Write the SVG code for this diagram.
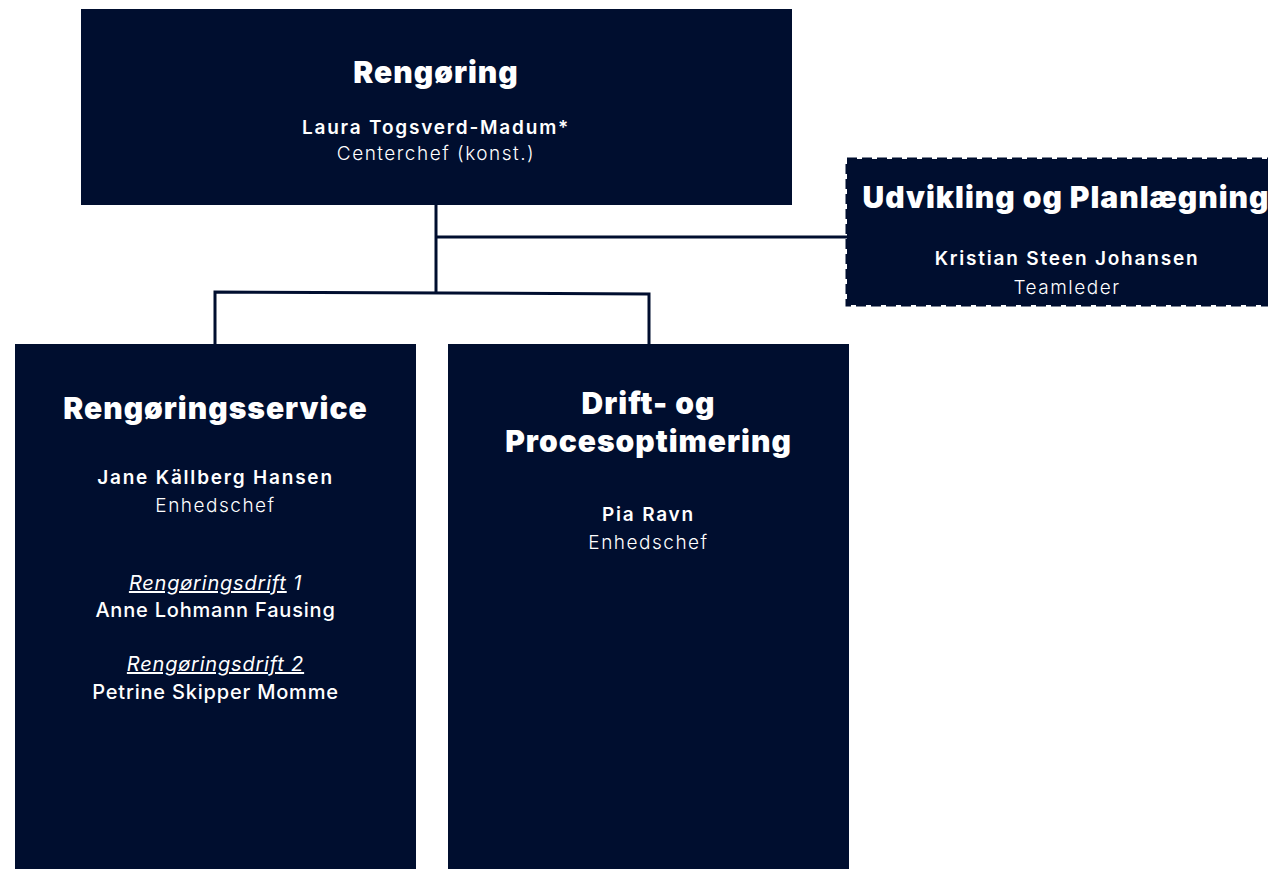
<svg xmlns="http://www.w3.org/2000/svg" width="1268" height="869" viewBox="0 0 1268 869">
<style>
.box{fill:#000e2f}
.dash{fill:#000e2f;stroke:#000e2f;stroke-width:3;stroke-dasharray:10 5}
.t{font-family:Inter,"Open Sans",sans-serif;font-weight:900;font-size:30px;fill:#fff;text-anchor:middle;letter-spacing:1px}
.n{font-family:Inter,"Open Sans",sans-serif;font-weight:600;font-size:19px;fill:#fff;text-anchor:middle;letter-spacing:1.8px}
.m{font-family:Inter,"Open Sans",sans-serif;font-weight:500;font-size:20px;fill:#fff;text-anchor:middle;letter-spacing:0.8px}
.r{font-family:Inter,"Open Sans",sans-serif;font-weight:300;font-size:19px;fill:#fff;text-anchor:middle;letter-spacing:1.5px}
.i{font-family:Inter,"Open Sans",sans-serif;font-style:italic;font-weight:400;font-size:20px;fill:#fff;text-anchor:middle;letter-spacing:0.8px}
.c{fill:none;stroke:#000e2f;stroke-width:3}
</style>
<rect width="1268" height="869" fill="#fff"/>
<g id="connectors">
<path class="c" d="M436 205 V292"/>
<path class="c" d="M436 237 H847"/>
<path class="c" d="M215 344 V292 L649 294 V344"/>
</g>
<g id="rengoring">
<rect class="box" x="81" y="9" width="711" height="196"/>
<text class="t" x="436" y="83">Rengøring</text>
<text class="n" x="436" y="134">Laura Togsverd-Madum*</text>
<text class="r" x="436" y="160">Centerchef (konst.)</text>
</g>
<g id="udvikling">
<rect class="dash" x="847" y="159" width="424" height="146"/>
<text class="t" x="1066" y="208">Udvikling og Planlægning</text>
<text class="n" x="1067" y="265">Kristian Steen Johansen</text>
<text class="r" x="1067" y="294">Teamleder</text>
</g>
<g id="rengoringsservice">
<rect class="box" x="15" y="344" width="401" height="525"/>
<text class="t" x="215.5" y="419">Rengøringsservice</text>
<text class="n" x="215.5" y="484">Jane Källberg Hansen</text>
<text class="r" x="215.5" y="512">Enhedschef</text>
<text class="i" x="215.5" y="590"><tspan text-decoration="underline">Rengøringsdrift</tspan> 1</text>
<text class="m" x="215.5" y="617">Anne Lohmann Fausing</text>
<text class="i" x="215.5" y="671" text-decoration="underline">Rengøringsdrift 2</text>
<text class="m" x="215.5" y="699">Petrine Skipper Momme</text>
</g>
<g id="drift">
<rect class="box" x="448" y="344" width="401" height="525"/>
<text class="t" x="648.5" y="414">Drift- og</text>
<text class="t" x="648.5" y="452">Procesoptimering</text>
<text class="n" x="648.5" y="521">Pia Ravn</text>
<text class="r" x="648.5" y="549">Enhedschef</text>
</g>
</svg>
